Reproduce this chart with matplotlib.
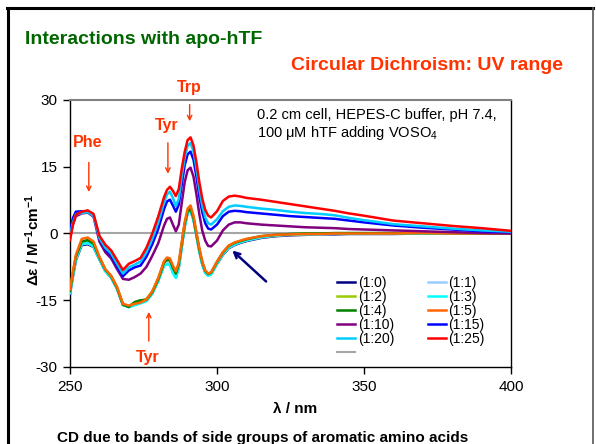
import matplotlib
matplotlib.use("Agg")
import matplotlib.pyplot as plt
from matplotlib.lines import Line2D

plt.rcParams['font.family'] = ['Liberation Sans', 'DejaVu Sans']
plt.rcParams['mathtext.fontset'] = 'custom'
plt.rcParams['mathtext.rm'] = 'Liberation Sans'
plt.rcParams['mathtext.it'] = 'Liberation Sans:italic'
plt.rcParams['mathtext.bf'] = 'Liberation Sans:bold'
plt.rcParams['axes.unicode_minus'] = False

# ---------------- data ----------------
wavelength = [250, 251, 252, 254, 256, 258, 260, 262, 264, 266, 268, 270, 272, 274, 276, 278,
              280, 282, 283, 284, 285, 286, 287, 288, 289, 290, 291, 292, 293, 294, 295, 296,
              297, 298, 300, 302, 304, 306, 308, 310, 315, 320, 325, 330, 335, 340, 345, 350,
              360, 370, 380, 390, 400]

r_1_0 = [-13.6, -9.6, -6.0, -2.6, -2.4, -3.0, -5.8, -8.4, -9.9, -12.4, -16.0, -16.4, -16.0, -15.6, -15.0, -13.4,
         -10.6, -7.0, -6.6, -6.8, -8.6, -9.8, -7.6, -3.0, 1.6, 4.6, 5.2, 3.2, -0.4, -4.0, -6.9, -8.8,
         -9.4, -9.1, -6.8, -4.8, -3.3, -2.6, -2.1, -1.7, -1.0, -0.6, -0.4, -0.3, -0.2, -0.2, -0.1, -0.1,
         -0.1, 0.0, 0.0, 0.0, 0.0]
r_1_1 = [-13.4, -9.4, -5.8, -2.4, -2.2, -2.8, -5.7, -8.3, -9.8, -12.3, -16.0, -16.4, -16.0, -15.6, -15.0, -13.4,
         -10.5, -6.9, -6.5, -6.7, -8.5, -9.7, -7.5, -2.9, 1.7, 4.7, 5.3, 3.3, -0.3, -3.9, -6.8, -8.7,
         -9.3, -9.0, -6.7, -4.7, -3.2, -2.5, -2.0, -1.6, -0.9, -0.5, -0.3, -0.2, -0.2, -0.1, -0.1, -0.1,
         0.0, 0.0, 0.0, 0.0, 0.0]
r_1_2 = [-13.0, -9.0, -5.3, -1.9, -1.6, -2.4, -5.5, -8.2, -9.6, -12.1, -15.9, -16.3, -15.6, -15.2, -14.7, -13.0,
         -10.2, -6.4, -5.9, -6.1, -7.8, -9.1, -7.0, -2.5, 2.0, 5.0, 5.6, 3.5, -0.1, -3.7, -6.6, -8.5,
         -9.2, -8.9, -6.5, -4.4, -2.9, -2.2, -1.8, -1.4, -0.7, -0.4, -0.2, -0.1, -0.1, 0.0, 0.0, 0.0,
         0.0, 0.1, 0.0, 0.0, 0.0]
r_1_3 = [-13.2, -9.3, -5.7, -2.4, -2.1, -2.9, -5.8, -8.5, -9.9, -12.4, -16.1, -16.6, -16.1, -15.7, -15.2, -13.5,
         -10.7, -7.2, -6.9, -7.1, -8.9, -10.0, -7.8, -3.2, 1.5, 4.6, 5.1, 3.1, -0.5, -4.1, -7.0, -8.9,
         -9.5, -9.2, -6.8, -4.6, -3.1, -2.4, -1.9, -1.5, -0.8, -0.4, -0.2, -0.1, -0.1, 0.0, 0.0, 0.0,
         0.0, 0.0, 0.0, 0.0, 0.0]
r_1_4 = [-12.9, -8.9, -5.2, -1.8, -1.5, -2.3, -5.4, -8.1, -9.6, -12.2, -16.0, -16.5, -15.4, -15.0, -14.9, -13.2,
         -10.3, -6.5, -5.9, -6.0, -7.7, -9.0, -6.9, -2.4, 2.1, 5.0, 5.5, 3.5, -0.1, -3.6, -6.5, -8.4,
         -9.1, -8.8, -6.4, -4.3, -2.8, -2.1, -1.7, -1.3, -0.6, -0.3, -0.1, 0.0, 0.0, 0.1, 0.1, 0.1,
         0.1, 0.1, 0.1, 0.0, 0.0]
r_1_5 = [-12.5, -8.5, -4.8, -1.2, -0.9, -1.8, -5.2, -8.0, -9.5, -12.0, -15.8, -16.2, -15.8, -15.5, -14.8, -13.0,
         -10.0, -6.2, -5.4, -5.6, -7.2, -8.5, -6.5, -2.0, 2.5, 5.6, 6.3, 4.0, 0.3, -3.3, -6.3, -8.3,
         -9.0, -8.7, -6.3, -4.2, -2.7, -2.0, -1.6, -1.2, -0.6, -0.3, -0.2, -0.1, -0.1, 0.0, 0.0, 0.0,
         0.0, 0.1, 0.0, 0.0, 0.0]
r_1_10 = [-1.0, 2.0, 3.9, 4.5, 4.7, 3.8, -1.8, -4.2, -5.6, -8.0, -10.2, -10.4, -9.8, -9.0, -7.5, -5.0,
          -2.2, 1.8, 3.3, 3.6, 2.0, 0.5, 2.0, 6.8, 11.5, 14.2, 14.8, 12.8, 8.8, 4.3, 0.6, -1.6,
          -2.8, -2.9, -1.6, 0.7, 2.0, 2.5, 2.5, 2.3, 2.0, 1.8, 1.6, 1.4, 1.3, 1.2, 1.0, 0.9,
          0.7, 0.5, 0.3, 0.1, 0.0]
r_1_15 = [0.5, 3.5, 4.9, 5.0, 4.9, 4.2, -1.0, -3.5, -5.0, -7.3, -9.6, -8.3, -7.6, -7.2, -5.2, -2.4,
          1.0, 5.5, 7.2, 7.6, 6.3, 4.9, 6.5, 11.0, 15.3, 17.8, 18.4, 16.6, 12.8, 8.3, 4.8, 2.3,
          1.1, 0.9, 2.0, 3.9, 4.9, 5.1, 5.0, 4.8, 4.5, 4.2, 3.9, 3.7, 3.5, 3.3, 2.9, 2.5,
          1.8, 1.3, 0.9, 0.5, 0.3]
r_1_20 = [-0.5, 2.5, 4.3, 4.6, 4.8, 4.0, -1.0, -3.2, -4.5, -6.8, -9.0, -7.6, -7.0, -6.3, -4.2, -1.2,
          2.5, 7.0, 8.8, 9.4, 8.0, 6.2, 7.8, 12.8, 17.0, 19.7, 20.3, 18.5, 14.6, 10.0, 6.2, 3.6,
          2.3, 2.0, 3.2, 5.0, 6.0, 6.3, 6.2, 6.0, 5.6, 5.3, 4.9, 4.6, 4.4, 4.1, 3.5, 3.0,
          2.1, 1.6, 1.1, 0.7, 0.4]
r_1_25 = [-1.5, 2.0, 4.2, 4.9, 5.2, 4.4, -0.5, -2.5, -3.8, -6.0, -8.2, -6.8, -6.2, -5.5, -3.2, 0.0,
          3.8, 8.2, 9.8, 10.5, 9.6, 8.4, 10.0, 14.5, 18.3, 21.0, 21.6, 19.8, 16.0, 11.5, 7.8, 5.3,
          4.0, 3.6, 5.0, 7.3, 8.3, 8.5, 8.3, 8.0, 7.6, 7.1, 6.6, 6.1, 5.6, 5.1, 4.5, 4.0,
          2.9, 2.3, 1.7, 1.2, 0.6]

baseline_wavelength = [250, 400]
baseline_values = [0, 0]

series_labels = ['(1:0)', '(1:1)', '(1:2)', '(1:3)', '(1:4)', '(1:5)',
                 '(1:10)', '(1:15)', '(1:20)', '(1:25)']
series_values = [r_1_0, r_1_1, r_1_2, r_1_3, r_1_4, r_1_5, r_1_10, r_1_15, r_1_20, r_1_25]
series_colors = ['#000080', '#99ccff', '#99cc00', '#00ffff', '#008000', '#ff6600',
                 '#800080', '#0000ff', '#00ccff', '#ff0000']

x_ticks = [250, 300, 350, 400]
y_ticks = [-30, -15, 0, 15, 30]

# ---------------- figure ----------------
W, H = 596, 444
fig = plt.figure(figsize=(W / 100, H / 100), dpi=100)
fig.patch.set_facecolor('white')

def fx(px):
    return px / W

def fy(py):
    return 1 - py / H

ax_l, ax_r, ax_t, ax_b = 70, 511, 100, 367
ax = fig.add_axes([fx(ax_l), fy(ax_b), (ax_r - ax_l) / W, (ax_b - ax_t) / H])

handles = {}
for lab, vals, col in zip(series_labels, series_values, series_colors):
    ln, = ax.plot(wavelength, vals, color=col, lw=1.8, zorder=3, solid_joinstyle='round')
    handles[lab] = ln
gray_ln, = ax.plot(baseline_wavelength, baseline_values, color='#a6a6a6', lw=1.5, zorder=2)

ax.set_xlim(250, 400)
ax.set_ylim(-30, 30)
ax.set_xticks(x_ticks)
ax.set_yticks(y_ticks)
ax.tick_params(axis='both', direction='out', length=5, width=1, labelsize=11, colors='black', pad=4)
for s in ['left', 'bottom', 'right']:
    ax.spines[s].set_color('black')
    ax.spines[s].set_linewidth(1.0)
ax.spines['top'].set_color('#808080')
ax.spines['top'].set_linewidth(1.5)

ax.set_xlabel('λ / nm', fontsize=11, fontweight='bold')
ax.xaxis.set_label_coords((295 - ax_l) / (ax_r - ax_l), (ax_b - 402) / (ax_b - ax_t))
ax.set_ylabel(r'$\mathbf{\Delta\varepsilon\ /\ M^{-1}cm^{-1}}$', fontsize=11)
ax.yaxis.set_label_coords((42 - ax_l) / (ax_r - ax_l), (ax_b - 240) / (ax_b - ax_t))

# legend
order = ['(1:0)', '(1:2)', '(1:4)', '(1:10)', '(1:20)', None,
         '(1:1)', '(1:3)', '(1:5)', '(1:15)', '(1:25)']
leg_h = [handles[k] if k else gray_ln for k in order]
leg_l = [k if k else ' ' for k in order]
leg = ax.legend(leg_h, leg_l, ncol=2, frameon=False, fontsize=10,
                handlelength=1.3, handletextpad=0.2, columnspacing=2.4,
                labelspacing=0.0, borderpad=0, borderaxespad=0,
                loc='upper left',
                bbox_to_anchor=((337 - ax_l) / (ax_r - ax_l), (ax_b - 276) / (ax_b - ax_t)))

# annotations
red = '#ff3300'
ax.text(256.1, 20.4, 'Phe', color=red, fontsize=11.5, fontweight='bold', ha='center', va='center')
ax.annotate('', xy=(256.4, 8.7), xytext=(256.4, 16.6),
            arrowprops=dict(arrowstyle='->', color=red, lw=1, mutation_scale=8))
ax.text(282.9, 24.2, 'Tyr', color=red, fontsize=11.5, fontweight='bold', ha='center', va='center')
ax.annotate('', xy=(283.3, 12.8), xytext=(283.3, 21.0),
            arrowprops=dict(arrowstyle='->', color=red, lw=1, mutation_scale=8))
ax.text(290.7, 32.8, 'Trp', color=red, fontsize=11.5, fontweight='bold', ha='center', va='center', clip_on=False)
ax.annotate('', xy=(290.7, 24.6), xytext=(290.7, 29.6),
            arrowprops=dict(arrowstyle='->', color=red, lw=1, mutation_scale=8), annotation_clip=False)
ax.text(276.5, -27.8, 'Tyr', color=red, fontsize=11.5, fontweight='bold', ha='center', va='center')
ax.annotate('', xy=(276.8, -17.0), xytext=(276.8, -24.8),
            arrowprops=dict(arrowstyle='->', color=red, lw=1, mutation_scale=8))

ax.annotate('', xy=(304.5, -3.4), xytext=(317.4, -11.2),
            arrowprops=dict(arrowstyle='->', color='#000080', lw=1.8, mutation_scale=10))

ax.text(313.5, 24.4, '0.2 cm cell, HEPES-C buffer, pH 7.4,\n100 μM hTF adding VOSO$_4$',
        fontsize=10.5, ha='left', va='center', linespacing=1.2)

# titles
fig.text(fx(25), fy(40), 'Interactions with apo-hTF', color='#006600', fontsize=14,
         fontweight='bold', ha='left', va='center')
fig.text(fx(291), fy(65), 'Circular Dichroism: UV range', color=red, fontsize=14,
         fontweight='bold', ha='left', va='center')
fig.text(fx(57), fy(438), 'CD due to bands of side groups of aromatic amino acids',
         fontsize=11, fontweight='bold', ha='left', va='center')

# outer frame
fig.add_artist(Line2D([fx(8), fx(8)], [fy(8), fy(460)], color='black', lw=2.2, transform=fig.transFigure))
fig.add_artist(Line2D([fx(7), fx(593)], [fy(8.5), fy(8.5)], color='black', lw=2.2, transform=fig.transFigure))
fig.add_artist(Line2D([fx(593), fx(593)], [fy(8), fy(460)], color='#555555', lw=1.2, transform=fig.transFigure))

fig.savefig('out.png', dpi=100)
